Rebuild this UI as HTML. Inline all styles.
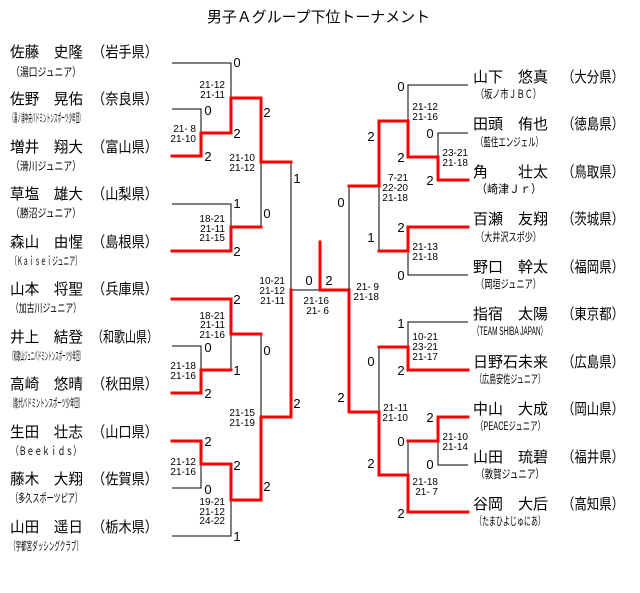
<!DOCTYPE html>
<html><head><meta charset="utf-8"><style>
html,body{margin:0;padding:0;background:#fff;}
svg{display:block;}
text{font-family:"Liberation Sans","Noto Sans CJK JP",sans-serif;fill:#000;}
.nm{font-size:15px;}
.tm{font-size:11.5px;fill:#333;}
.sc{font-size:13px;fill:#222;}
.sm{font-size:10px;}
.b{stroke:#000;stroke-width:1;fill:none;}
.r{stroke:#f00;stroke-width:3;fill:none;stroke-linecap:square;}
</style></head><body>
<svg width="640" height="593" viewBox="0 0 640 593" xmlns="http://www.w3.org/2000/svg">
<text x="207" y="22" font-size="15" textLength="223" lengthAdjust="spacingAndGlyphs">男子Ａグループ下位トーナメント</text>

<path class="b" d="M172,63H231V98 M172,109H201V133 M172,204H231V227 M261,162V227 M291,162V290H320 M172,346H201V370 M231,334V370 M261,334V417 M172,488H201V464 M172,536H231V500"/>
<path class="r" d="M172,156H201V133H231V98H261V162H291 M172,251H231V227H261 M172,299H231V334H261 M261,500V417H291V290 M201,370H231 M201,370V393H172 M172,441H201V464H231V500H261"/>
<path class="r" d="M320,242V290H349V412"/>
<path class="b" d="M468,85H408V121 M468,133H438V157 M468,275H408V251 M379,186V251 M349,186V290 M468,322H408V347 M379,347V412 M468,465H438V441 M408,441V475"/>
<path class="r" d="M468,180H438V157H408V121H379V186H349 M468,227H408V251H379 M349,412H379V475H408V512H468 M379,347H408V370H468 M468,417H438V441H408"/>

<g class="nm">
<text x="10" y="57" textLength="73" lengthAdjust="spacingAndGlyphs">佐藤　史隆</text><text x="92" y="57" textLength="66" lengthAdjust="spacingAndGlyphs">（岩手県）</text>
<text x="10" y="104" textLength="73" lengthAdjust="spacingAndGlyphs">佐野　晃佑</text><text x="92" y="104" textLength="66" lengthAdjust="spacingAndGlyphs">（奈良県）</text>
<text x="10" y="152" textLength="73" lengthAdjust="spacingAndGlyphs">増井　翔大</text><text x="92" y="152" textLength="66" lengthAdjust="spacingAndGlyphs">（富山県）</text>
<text x="10" y="199" textLength="73" lengthAdjust="spacingAndGlyphs">草塩　雄大</text><text x="92" y="199" textLength="66" lengthAdjust="spacingAndGlyphs">（山梨県）</text>
<text x="10" y="247" textLength="73" lengthAdjust="spacingAndGlyphs">森山　由惺</text><text x="92" y="247" textLength="66" lengthAdjust="spacingAndGlyphs">（島根県）</text>
<text x="10" y="294" textLength="73" lengthAdjust="spacingAndGlyphs">山本　将聖</text><text x="92" y="294" textLength="66" lengthAdjust="spacingAndGlyphs">（兵庫県）</text>
<text x="10" y="342" textLength="73" lengthAdjust="spacingAndGlyphs">井上　結登</text><text x="92" y="342" textLength="66" lengthAdjust="spacingAndGlyphs">（和歌山県）</text>
<text x="10" y="389" textLength="73" lengthAdjust="spacingAndGlyphs">高崎　悠晴</text><text x="92" y="389" textLength="66" lengthAdjust="spacingAndGlyphs">（秋田県）</text>
<text x="10" y="437" textLength="73" lengthAdjust="spacingAndGlyphs">生田　壮志</text><text x="92" y="437" textLength="66" lengthAdjust="spacingAndGlyphs">（山口県）</text>
<text x="10" y="484" textLength="73" lengthAdjust="spacingAndGlyphs">藤木　大翔</text><text x="92" y="484" textLength="66" lengthAdjust="spacingAndGlyphs">（佐賀県）</text>
<text x="10" y="532" textLength="73" lengthAdjust="spacingAndGlyphs">山田　遥日</text><text x="92" y="532" textLength="66" lengthAdjust="spacingAndGlyphs">（栃木県）</text>
</g>
<g class="tm">
<text x="11" y="76" textLength="70" lengthAdjust="spacingAndGlyphs">（湯口ジュニア）</text>
<text x="10" y="122" textLength="73" lengthAdjust="spacingAndGlyphs">（湯ノ浦中央バドミントンスポーツ少年団）</text>
<text x="11" y="170" textLength="70" lengthAdjust="spacingAndGlyphs">（滑川ジュニア）</text>
<text x="11" y="217" textLength="70" lengthAdjust="spacingAndGlyphs">（勝沼ジュニア）</text>
<text x="11" y="265" textLength="70" lengthAdjust="spacingAndGlyphs">（Ｋａｉｓｅｉジュニア）</text>
<text x="11" y="312" textLength="70" lengthAdjust="spacingAndGlyphs">（加古川ジュニア）</text>
<text x="10" y="360" textLength="73" lengthAdjust="spacingAndGlyphs">（和歌山ジュニバドミントンスポーツ少年団）</text>
<text x="10" y="407" textLength="73" lengthAdjust="spacingAndGlyphs">（能代バドミントンスポーツ少年団）</text>
<text x="11" y="455" textLength="70" lengthAdjust="spacingAndGlyphs">（Ｂｅｅｋｉｄｓ）</text>
<text x="11" y="502" textLength="71" lengthAdjust="spacingAndGlyphs">（多久スポーツピア）</text>
<text x="10" y="550" textLength="72" lengthAdjust="spacingAndGlyphs">（宇都宮ダッシングクラブ）</text>
</g>

<g class="nm">
<text x="473" y="82" textLength="75" lengthAdjust="spacingAndGlyphs">山下　悠真</text><text x="562" y="82" textLength="62" lengthAdjust="spacingAndGlyphs">（大分県）</text>
<text x="473" y="129" textLength="75" lengthAdjust="spacingAndGlyphs">田頭　侑也</text><text x="562" y="129" textLength="62" lengthAdjust="spacingAndGlyphs">（徳島県）</text>
<text x="473" y="177" textLength="75" lengthAdjust="spacingAndGlyphs">角　　壮太</text><text x="562" y="177" textLength="62" lengthAdjust="spacingAndGlyphs">（鳥取県）</text>
<text x="473" y="224" textLength="75" lengthAdjust="spacingAndGlyphs">百瀬　友翔</text><text x="562" y="224" textLength="62" lengthAdjust="spacingAndGlyphs">（茨城県）</text>
<text x="473" y="272" textLength="75" lengthAdjust="spacingAndGlyphs">野口　幹太</text><text x="562" y="272" textLength="62" lengthAdjust="spacingAndGlyphs">（福岡県）</text>
<text x="473" y="319" textLength="75" lengthAdjust="spacingAndGlyphs">指宿　太陽</text><text x="562" y="319" textLength="62" lengthAdjust="spacingAndGlyphs">（東京都）</text>
<text x="473" y="367" textLength="75" lengthAdjust="spacingAndGlyphs">日野石未来</text><text x="562" y="367" textLength="62" lengthAdjust="spacingAndGlyphs">（広島県）</text>
<text x="473" y="414" textLength="75" lengthAdjust="spacingAndGlyphs">中山　大成</text><text x="562" y="414" textLength="62" lengthAdjust="spacingAndGlyphs">（岡山県）</text>
<text x="473" y="462" textLength="75" lengthAdjust="spacingAndGlyphs">山田　琉碧</text><text x="562" y="462" textLength="62" lengthAdjust="spacingAndGlyphs">（福井県）</text>
<text x="473" y="509" textLength="75" lengthAdjust="spacingAndGlyphs">谷岡　大后</text><text x="562" y="509" textLength="62" lengthAdjust="spacingAndGlyphs">（高知県）</text>
</g>
<g class="tm">
<text x="476" y="98" textLength="65" lengthAdjust="spacingAndGlyphs">（坂ノ市ＪＢＣ）</text>
<text x="476" y="146" textLength="67" lengthAdjust="spacingAndGlyphs">（藍住エンジェル）</text>
<text x="476" y="193" textLength="66" lengthAdjust="spacingAndGlyphs">（崎津Ｊｒ）</text>
<text x="476" y="241" textLength="65" lengthAdjust="spacingAndGlyphs">（大井沢スポ少）</text>
<text x="476" y="288" textLength="65" lengthAdjust="spacingAndGlyphs">（岡垣ジュニア）</text>
<text x="473" y="335" textLength="74" lengthAdjust="spacingAndGlyphs" fill="#777">（TEAM SHIBA JAPAN）</text>
<text x="475" y="383" textLength="70" lengthAdjust="spacingAndGlyphs">（広島安佐ジュニア）</text>
<text x="476" y="430" textLength="69" lengthAdjust="spacingAndGlyphs">（PEACEジュニア）</text>
<text x="476" y="478" textLength="68" lengthAdjust="spacingAndGlyphs">（敦賀ジュニア）</text>
<text x="475" y="525" textLength="70" lengthAdjust="spacingAndGlyphs">（たまひよじゅにあ）</text>
</g>

<g class="sc" text-anchor="middle">
<text x="237" y="67">0</text><text x="208" y="115">0</text><text x="237" y="138">2</text><text x="208" y="161">2</text>
<text x="267" y="117">2</text><text x="297" y="183">1</text><text x="237" y="208">1</text><text x="267" y="218">0</text>
<text x="237" y="256">2</text><text x="309" y="285">0</text><text x="329" y="285">2</text>
<text x="237" y="304">2</text><text x="208" y="352">0</text><text x="267" y="355">0</text><text x="237" y="375">1</text>
<text x="208" y="398">2</text><text x="297" y="408">2</text><text x="208" y="446">2</text><text x="237" y="470">2</text>
<text x="208" y="494">0</text><text x="267" y="491">2</text><text x="237" y="541">1</text>
<text x="401" y="91">0</text><text x="430" y="138">0</text><text x="371" y="141">2</text><text x="401" y="162">2</text>
<text x="430" y="185">2</text><text x="341" y="207">0</text><text x="401" y="232">2</text><text x="371" y="242">1</text>
<text x="401" y="280">0</text><text x="401" y="328">1</text><text x="371" y="366">0</text><text x="401" y="375">2</text>
<text x="341" y="402">2</text><text x="430" y="422">2</text><text x="401" y="446">0</text><text x="371" y="468">2</text>
<text x="430" y="469">0</text><text x="401" y="518">2</text>
</g>

<g class="sm" text-anchor="end">
<text x="225" y="88">21-12</text><text x="225" y="98">21-11</text>
<text x="196" y="132">21- 8</text><text x="196" y="142">21-10</text>
<text x="255" y="161">21-10</text><text x="255" y="171">21-12</text>
<text x="225" y="222">18-21</text><text x="225" y="232">21-11</text><text x="225" y="241">21-15</text>
<text x="285" y="284">10-21</text><text x="285" y="294">21-12</text><text x="285" y="304">21-11</text>
<text x="329" y="304">21-16</text><text x="329" y="314">21- 6</text>
<text x="379" y="290">21- 9</text><text x="379" y="300">21-18</text>
<text x="225" y="319">18-21</text><text x="225" y="328">21-11</text><text x="225" y="338">21-16</text>
<text x="196" y="369">21-18</text><text x="196" y="379">21-16</text>
<text x="255" y="416">21-15</text><text x="255" y="426">21-19</text>
<text x="196" y="465">21-12</text><text x="196" y="475">21-16</text>
<text x="225" y="505">19-21</text><text x="225" y="515">21-12</text><text x="225" y="524">24-22</text>
<text x="438" y="110">21-12</text><text x="438" y="120">21-16</text>
<text x="468" y="156">23-21</text><text x="468" y="166">21-18</text>
<text x="408" y="181">7-21</text><text x="408" y="191">22-20</text><text x="408" y="201">21-18</text>
<text x="438" y="250">21-13</text><text x="438" y="260">21-18</text>
<text x="438" y="340">10-21</text><text x="438" y="350">23-21</text><text x="438" y="360">21-17</text>
<text x="408" y="411">21-11</text><text x="408" y="421">21-10</text>
<text x="468" y="440">21-10</text><text x="468" y="450">21-14</text>
<text x="438" y="485">21-18</text><text x="438" y="495">21- 7</text>
</g>
</svg>
</body></html>
